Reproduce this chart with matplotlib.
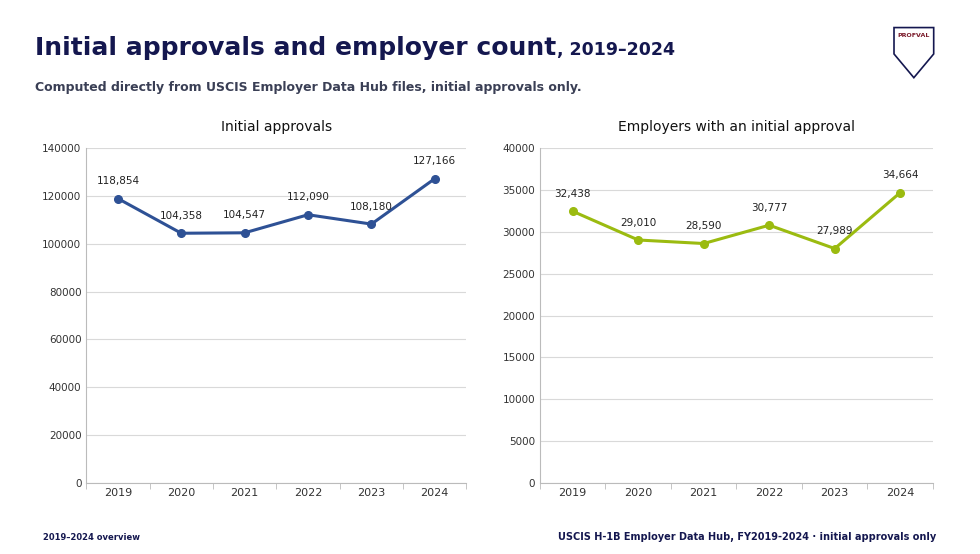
import matplotlib.pyplot as plt
from matplotlib.patches import Polygon

years = ["2019", "2020", "2021", "2022", "2023", "2024"]
approvals = [118854, 104358, 104547, 112090, 108180, 127166]
employers = [32438, 29010, 28590, 30777, 27989, 34664]

NAVY = "#14174f"
BLUE = "#2e5195"
GREEN = "#9bbb10"

fig = plt.figure(figsize=(9.8, 5.54), dpi=100)
fig.patch.set_facecolor("white")

title = fig.text(0.036, 0.9, "Initial approvals and employer count", fontsize=18, fontweight="bold",
                 color=NAVY, family="Liberation Sans Narrow")
renderer = fig.canvas.get_renderer()
bb = title.get_window_extent(renderer)
fig.text(bb.x1 / fig.bbox.width, 0.9, ", 2019\u20132024", fontsize=12.5, fontweight="bold",
         color=NAVY, family="Liberation Sans Narrow")
fig.text(0.036, 0.835, "Computed directly from USCIS Employer Data Hub files, initial approvals only.",
         fontsize=9, fontweight="bold", color="#3a3f55", family="Liberation Sans Narrow")
fig.text(0.044, 0.025, "2019\u20132024 overview", fontsize=6, fontweight="bold", color=NAVY,
         family="Liberation Sans Narrow")
fig.text(0.955, 0.025, "USCIS H-1B Employer Data Hub, FY2019-2024 \u00b7 initial approvals only",
         fontsize=7, fontweight="bold", color=NAVY, ha="right", family="Liberation Sans Narrow")

# logo shield
logo = fig.add_axes([0.91, 0.855, 0.045, 0.1])
logo.axis("off")
logo.set_xlim(0, 1); logo.set_ylim(-0.05, 1.0)
logo.add_patch(Polygon([(0.05, 0.95), (0.95, 0.95), (0.95, 0.45), (0.5, 0.0), (0.05, 0.45)],
                       closed=True, fill=False, edgecolor=NAVY, lw=1.2))
logo.text(0.5, 0.8, "PROFVAL", ha="center", va="center", fontsize=4.5, color="#7a1a2a", fontweight="bold")


def panel(rect, values, color, ymax, step, title):
    ax = fig.add_axes(rect)
    x = list(range(len(years)))
    ax.plot(x, values, color=color, lw=2.2, marker="o", ms=5.5, zorder=3)
    for xi, v in zip(x, values):
        ax.annotate(f"{v:,}", (xi, v), xytext=(0, 9), textcoords="offset points",
                    ha="center", va="bottom", fontsize=7.5, color="#222222")
    ax.set_xlim(-0.5, len(years) - 0.5)
    ax.set_ylim(0, ymax)
    ax.set_yticks(range(0, ymax + 1, step))
    ax.set_xticks(x)
    ax.set_xticklabels(years)
    ax.set_xticks([i + 0.5 for i in range(-1, len(years))], minor=True)
    ax.tick_params(axis="x", which="major", length=0, labelsize=8, colors="#333333")
    ax.tick_params(axis="x", which="minor", length=4, color="#bbbbbb")
    ax.tick_params(axis="y", length=0, labelsize=7.5, colors="#333333")
    ax.grid(axis="y", color="#d9d9d9", lw=0.8)
    ax.set_axisbelow(True)
    for s in ["top", "right"]:
        ax.spines[s].set_visible(False)
    ax.spines["left"].set_color("#bbbbbb")
    ax.spines["bottom"].set_color("#bbbbbb")
    ax.set_title(title, fontsize=10, color="#111111", pad=12)
    return ax


panel([0.088, 0.128, 0.388, 0.605], approvals, BLUE, 140000, 20000, "Initial approvals")
panel([0.551, 0.128, 0.401, 0.605], employers, GREEN, 40000, 5000, "Employers with an initial approval")

fig.savefig("out.png", dpi=100)
